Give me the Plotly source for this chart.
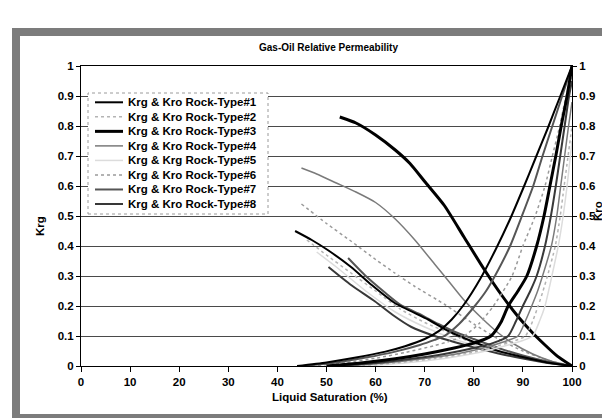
import plotly.graph_objects as go

# ---------------- data ----------------
names = ["Krg & Kro Rock-Type#1", "Krg & Kro Rock-Type#2", "Krg & Kro Rock-Type#3",
         "Krg & Kro Rock-Type#4", "Krg & Krg Rock-Type#5", "Krg & Kro Rock-Type#6",
         "Krg & Kro Rock-Type#7", "Krg & Kro Rock-Type#8"]

# Rock-Type #1
sl_krg1 = [43.6, 47, 50.4, 55, 59.2, 63.9, 70.7, 75, 80, 85, 90, 95, 100]
krg1 = [0.45, 0.42, 0.385, 0.33, 0.27, 0.21, 0.155, 0.115, 0.08, 0.05, 0.03, 0.012, 0]
sl_kro1 = [44, 50, 56, 62, 66, 70, 73, 75.5, 78, 81.3, 84.5, 87.4, 90, 92.5, 95, 97.5, 100]
kro1 = [0, 0.012, 0.028, 0.048, 0.066, 0.09, 0.118, 0.155, 0.205, 0.29, 0.39, 0.49, 0.59, 0.69, 0.79, 0.895, 1.0]

# Rock-Type #2
sl_krg2 = [46, 50, 55, 60, 65, 70, 75, 80, 85, 90, 95, 100]
krg2 = [0.42, 0.37, 0.31, 0.25, 0.19, 0.145, 0.11, 0.075, 0.05, 0.028, 0.012, 0]
sl_kro2 = [56, 64, 72, 79, 85, 88, 90.5, 92, 93.1, 94.1, 95, 96.6, 97.6, 98.4, 99.2, 100]
kro2 = [0, 0.01, 0.025, 0.043, 0.068, 0.082, 0.1, 0.15, 0.2, 0.25, 0.3, 0.4, 0.5, 0.6, 0.7, 0.8]

# Rock-Type #3
sl_krg3 = [52.7, 56, 60, 64, 67, 70, 74, 78, 82, 85.5, 89, 92, 94.5, 97, 100]
krg3 = [0.83, 0.81, 0.77, 0.72, 0.675, 0.615, 0.535, 0.43, 0.325, 0.24, 0.165, 0.11, 0.07, 0.033, 0]
sl_kro3 = [50, 57, 64, 70, 76, 80, 83.5, 85.5, 87, 89, 90.8, 92.8, 94.3, 95.5, 96.7, 97.8, 99, 100]
kro3 = [0, 0.01, 0.024, 0.04, 0.06, 0.076, 0.1, 0.145, 0.2, 0.25, 0.3, 0.4, 0.5, 0.6, 0.7, 0.8, 0.9, 1.0]

# Rock-Type #4
sl_krg4 = [44.9, 48, 52, 56, 60, 64, 68, 72, 75.5, 78, 81.6, 85, 88, 92, 96, 100]
krg4 = [0.66, 0.64, 0.61, 0.58, 0.545, 0.49, 0.42, 0.34, 0.27, 0.22, 0.16, 0.11, 0.075, 0.04, 0.015, 0]
sl_kro4 = [54, 62, 70, 77, 83, 86, 89, 90.5, 91.8, 93, 94, 95.8, 96.9, 97.7, 98.5, 99.3, 100]
kro4 = [0, 0.01, 0.025, 0.042, 0.065, 0.08, 0.1, 0.15, 0.2, 0.25, 0.3, 0.4, 0.5, 0.6, 0.7, 0.8, 0.88]

# Rock-Type #5
sl_krg5 = [48, 52, 58, 64, 70, 76, 82, 88, 94, 100]
krg5 = [0.38, 0.33, 0.25, 0.18, 0.13, 0.09, 0.06, 0.035, 0.015, 0]
sl_kro5 = [58, 66, 74, 81, 87, 90, 92, 93.4, 94.5, 95.9, 97.2, 98.2, 99, 100]
kro5 = [0, 0.01, 0.025, 0.045, 0.07, 0.085, 0.1, 0.15, 0.2, 0.3, 0.4, 0.5, 0.6, 0.75]

# Rock-Type #6
sl_krg6 = [44.9, 50, 55.1, 60, 63.9, 68, 74.1, 80, 85, 90, 95, 100]
krg6 = [0.54, 0.475, 0.415, 0.355, 0.31, 0.265, 0.205, 0.14, 0.09, 0.05, 0.02, 0]
sl_kro6 = [47, 54, 60, 66, 72, 75, 78, 81, 84, 87.8, 90, 92.5, 94.5, 96, 97.5, 98.8, 100]
kro6 = [0, 0.012, 0.026, 0.045, 0.068, 0.082, 0.1, 0.14, 0.2, 0.3, 0.4, 0.5, 0.6, 0.7, 0.8, 0.9, 0.97]

# Rock-Type #7
sl_krg7 = [54.4, 58, 61.9, 65, 68.7, 72.8, 76, 80, 85, 90, 95, 100]
krg7 = [0.36, 0.3, 0.245, 0.205, 0.175, 0.14, 0.115, 0.09, 0.06, 0.035, 0.015, 0]
sl_kro7 = [45, 52, 58, 64, 69, 72, 74, 77, 80.2, 82.5, 84.3, 87.4, 89.8, 92.1, 94, 96, 98, 100]
kro7 = [0, 0.012, 0.028, 0.048, 0.07, 0.087, 0.1, 0.14, 0.2, 0.25, 0.3, 0.4, 0.5, 0.6, 0.7, 0.8, 0.9, 1.0]

# Rock-Type #8
sl_krg8 = [50.4, 55, 59.9, 63.5, 67.3, 72, 76, 80, 85, 90, 95, 100]
krg8 = [0.33, 0.27, 0.215, 0.17, 0.13, 0.1, 0.08, 0.062, 0.042, 0.025, 0.01, 0]
sl_kro8 = [52, 60, 67, 74, 80, 84, 87, 88.6, 90, 91.5, 92.8, 94.5, 95.7, 96.7, 97.6, 98.5, 99.4, 100]
kro8 = [0, 0.01, 0.023, 0.04, 0.06, 0.077, 0.1, 0.15, 0.2, 0.25, 0.3, 0.4, 0.5, 0.6, 0.7, 0.8, 0.9, 0.95]

x_ticks = [0, 10, 20, 30, 40, 50, 60, 70, 80, 90, 100]
y_ticks = [0, 0.1, 0.2, 0.3, 0.4, 0.5, 0.6, 0.7, 0.8, 0.9, 1]

# ---------------- styles ----------------
colors = ["#000000", "#b4b4b4", "#000000", "#7a7a7a", "#dcdcdc", "#9a9a9a", "#555555", "#383838"]
widths = [2, 1.5, 3, 1.5, 1.5, 1.5, 2, 2]
dashes = ["solid", "dot", "solid", "solid", "solid", "dot", "solid", "solid"]

series = [
    (sl_krg1, krg1, sl_kro1, kro1), (sl_krg2, krg2, sl_kro2, kro2),
    (sl_krg3, krg3, sl_kro3, kro3), (sl_krg4, krg4, sl_kro4, kro4),
    (sl_krg5, krg5, sl_kro5, kro5), (sl_krg6, krg6, sl_kro6, kro6),
    (sl_krg7, krg7, sl_kro7, kro7), (sl_krg8, krg8, sl_kro8, kro8),
]

FONT = "Arial, Liberation Sans, sans-serif"
W, H = 610, 418
L, R, T, B = 73, 564, 58, 358


def px(x):
    return (x - L) / (R - L)


def py(y):
    return (B - y) / (B - T)


fig = go.Figure()
draw_order = [4, 1, 5, 3, 6, 7, 0, 2]
for i in draw_order:
    sk, kg, so, ko = series[i]
    ln = dict(color=colors[i], width=widths[i], dash=dashes[i], shape="spline", smoothing=0.6)
    fig.add_trace(go.Scatter(x=sk, y=kg, mode="lines", line=ln, name=names[i],
                             showlegend=False, yaxis="y"))
    fig.add_trace(go.Scatter(x=so, y=ko, mode="lines", line=ln, name=names[i],
                             showlegend=False, yaxis="y2"))

shapes = []
annotations = []

# outer scanned frame
shapes.append(dict(type="rect", xref="paper", yref="paper",
                   x0=px(8), x1=px(603), y0=py(410), y1=py(24),
                   line=dict(color="#7c7c7c", width=8), layer="above"))

# legend box (manual, to match the tight Excel spacing)
shapes.append(dict(type="rect", xref="paper", yref="paper",
                   x0=px(80), x1=px(260), y0=py(206), y1=py(85),
                   line=dict(color="#9a9a9a", width=1, dash="dot"),
                   fillcolor="white", layer="above"))
for i, nm in enumerate(names):
    yc = 94.3 + i * 14.53
    shapes.append(dict(type="line", xref="paper", yref="paper",
                       x0=px(87), x1=px(115), y0=py(yc), y1=py(yc),
                       line=dict(color=colors[i], width=widths[i], dash=dashes[i]),
                       layer="above"))
    annotations.append(dict(xref="paper", yref="paper", x=px(118), y=py(yc),
                            text=nm, showarrow=False, xanchor="left", yanchor="middle",
                            font=dict(family=FONT, size=11.5, color="black", weight="bold")))

annotations.append(dict(xref="paper", yref="paper", x=px(320), y=py(40),
                        text="Gas-Oil Relative Permeability", showarrow=False,
                        xanchor="center", yanchor="middle",
                        font=dict(family=FONT, size=10, color="black", weight="bold")))
annotations.append(dict(xref="paper", yref="paper", x=px(322), y=py(389),
                        text="Liquid Saturation (%)", showarrow=False,
                        xanchor="center", yanchor="middle",
                        font=dict(family=FONT, size=11.5, color="black", weight="bold")))
annotations.append(dict(xref="paper", yref="paper", x=px(32), y=py(218),
                        text="Krg", showarrow=False, textangle=-90,
                        xanchor="center", yanchor="middle",
                        font=dict(family=FONT, size=11.5, color="black", weight="bold")))
annotations.append(dict(xref="paper", yref="paper", x=px(590), y=py(203),
                        text="Kro", showarrow=False, textangle=-90,
                        xanchor="center", yanchor="middle",
                        font=dict(family=FONT, size=11.5, color="black", weight="bold")))

tickfont = dict(family=FONT, size=11.5, color="black", weight="bold")

fig.update_layout(
    width=W, height=H,
    margin=dict(l=L, r=W - R, t=T, b=H - B, pad=0),
    paper_bgcolor="white", plot_bgcolor="white",
    showlegend=False,
    shapes=shapes, annotations=annotations,
    xaxis=dict(range=[0, 100], tickvals=x_ticks, ticks="outside", ticklen=5,
               tickcolor="black", showline=True, linecolor="black", linewidth=1,
               mirror=True, showgrid=False, zeroline=False, tickfont=tickfont),
    yaxis=dict(range=[0, 1], tickvals=y_ticks, ticks="outside", ticklen=4,
               tickcolor="black", showline=True, linecolor="black", linewidth=1,
               showgrid=True, gridcolor="#4a4a4a", gridwidth=1, zeroline=False,
               tickfont=tickfont),
    yaxis2=dict(range=[0, 1], tickvals=y_ticks, ticks="outside", ticklen=4,
                tickcolor="black", overlaying="y", side="right", showline=True,
                linecolor="black", linewidth=1, showgrid=False, zeroline=False,
                tickfont=tickfont),
)

fig.write_html("out.html")
